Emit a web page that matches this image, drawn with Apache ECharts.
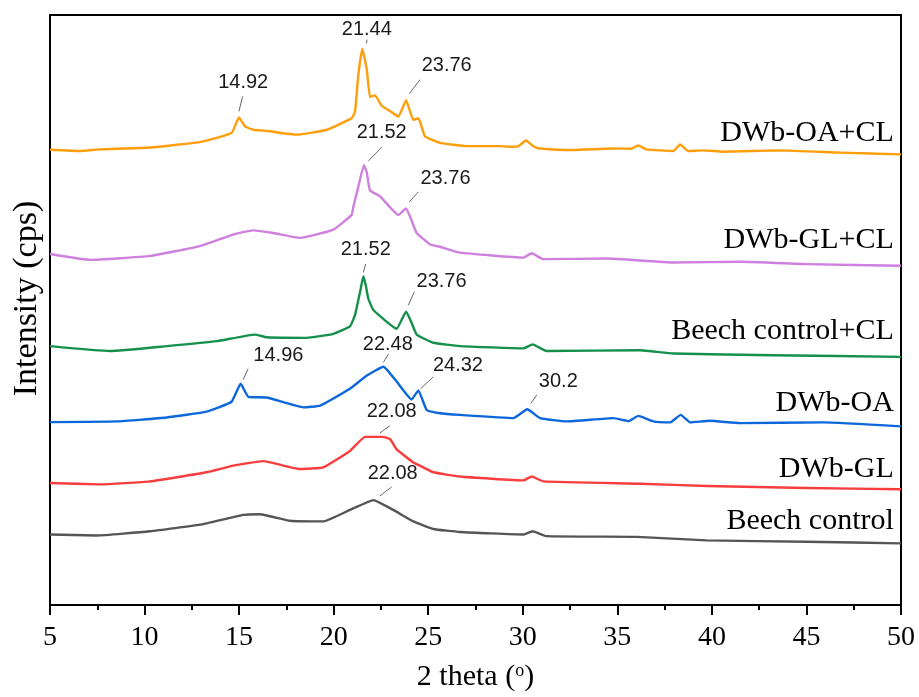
<!DOCTYPE html>
<html><head><meta charset="utf-8">
<script src="https://cdn.jsdelivr.net/npm/echarts@6/dist/echarts.min.js"></script>
<style>html,body{margin:0;padding:0;background:#fff}#chart{width:919px;height:697px}</style>
</head><body><div id="chart"></div>
<script>
// ---------- data ----------
const seriesNames = ['Beech control', 'DWb-GL', 'DWb-OA', 'Beech control+CL', 'DWb-GL+CL', 'DWb-OA+CL'];

const beech = [[5.0,71.7],[7.47,70.7],[10.29,75],[12.93,81.7],[15.22,91.7],[16.1,92.3],[17.69,85.7],[19.45,85],[20.86,96.7],[22.1,106.7],[23.15,96.7],[24.21,85],[25.27,77.3],[26.68,74.3],[30.03,71.7],[30.52,75],[31.26,70],[36.03,69.3],[39.72,65.7],[45.01,64.3],[50,62.7]];

const dwbGl = [[5.0,124],[7.64,122.7],[10.29,125.7],[13.28,135],[14.69,141.7],[16.28,146.3],[18.22,138.3],[19.45,140],[20.86,156.7],[21.66,171],[22.61,171],[23.0,168.3],[23.33,158.3],[24.21,145],[24.56,141.7],[25.27,135],[26.68,130.7],[30.03,126.7],[30.47,130.7],[31.09,125.7],[36.2,123.3],[39.72,121],[45.01,119],[50,117.7]];

const dwbOa = [[5.0,186],[8.52,186.7],[11.17,190.7],[13.28,196.7],[14.6,206.7],[15.08,225],[15.49,211.7],[16.46,211],[18.4,201],[19.28,202.7],[20.86,220],[21.75,233.3],[22.63,242.3],[23.3,228],[24.12,209],[24.48,218.3],[24.92,198.3],[25.62,195],[26.68,193.3],[29.5,190],[30.24,199],[30.91,190],[32.32,186.7],[34.79,190],[35.6,187],[36.11,192.3],[36.9,186.7],[37.79,185.7],[38.35,193.3],[38.85,185.7],[39.9,187.3],[41.49,185],[45.89,185.7],[50,181.7]];

const beechCl = [[5.0,263.3],[8.17,258.3],[11.17,263.3],[13.81,268.3],[15.84,275],[16.46,272.3],[18.57,271.7],[19.98,275.7],[20.86,283.3],[21.13,295],[21.43,321.7],[21.57,334.3],[21.7,325],[21.83,311.7],[22.1,300],[23.33,281],[23.83,298.3],[24.1,288],[24.39,275],[25.27,266.7],[26.68,263.3],[30.03,261],[30.52,265],[31.26,258.3],[36.2,259],[37.96,255.7],[43.25,254],[50,252.3]];

const dwbGlCl = [[5.0,357],[7.12,351],[10.29,355],[12.93,365],[14.68,376.7],[15.75,381],[16.81,378.3],[18.22,373.3],[19.98,381.7],[20.95,396.7],[21.04,405],[21.3,425],[21.6,447.3],[21.75,440],[21.92,421.7],[22.45,415.7],[23.42,396.7],[23.83,403.3],[24.1,392],[24.39,378.3],[25.1,366.7],[25.62,364.3],[26.68,358.3],[30.03,353.3],[30.47,357.7],[31.09,351.7],[34.44,352.3],[37.96,348.3],[41.49,349],[45.01,346.7],[50,345]];

const dwbOaCl = [[5.0,463],[6.6,461.7],[7.6,463.3],[10.3,465.3],[12.9,470.7],[14.6,480],[14.99,495.7],[15.31,486.7],[15.75,483.3],[16.5,482],[18.05,478.3],[19.63,483.3],[20.95,495],[21.13,501.7],[21.3,538.3],[21.51,565.7],[21.75,545],[21.92,516.7],[22.19,518.3],[22.54,507.7],[22.98,502.3],[23.42,496.7],[23.83,513.3],[24.21,493.3],[24.48,495],[24.83,476.7],[25.62,470],[27.03,466.7],[28.8,466.7],[29.33,466],[29.8,467],[30.17,472.3],[30.6,466],[30.91,464.3],[32.66,462.7],[34.77,464.3],[35.76,464],[36.09,467.3],[36.55,463.3],[37.96,461.7],[38.32,468.3],[38.75,461.7],[39.55,462.3],[40.6,461],[43.6,462.3],[46.78,460],[50,458.3]];

// peak annotations: text and anchor (2θ, intensity) just above each peak
const peakTexts = ['14.92','21.44','23.76','21.52','23.76','21.52','23.76','14.96','22.48','24.32','30.2','22.08','22.08'];
const peakAnchorX = [14.99,21.73,24.0,21.83,24.0,21.57,23.95,15.21,22.63,24.6,30.42,22.45,22.45];
const peakAnchorY = [502,571,520,451.7,410,338.3,305,229,246.7,220,205,175,111];

// axis ranges
const xMin = 5, xMax = 50, xStep = 5;
const yMin = 0, yMax = 600;

// ---------- layout / style (pixels) ----------
const colors = ['#555555', '#F73D3D', '#0B67DA', '#14904A', '#CF80DE', '#FF9E0B'];
// [lineEnd dx, dy, text dx, dy] relative to anchor
const peakOffsets = [
  [3.7,-15,4.3,-29],[0.7,-4,0.4,-14],[10.7,-14,37.4,-28.3],[13.4,-13.3,13.4,-28.3],
  [9,-10,36.2,-23],[2.4,-8.4,2.4,-22.7],[6,-13.3,33.2,-23.3],[5,-11,35.3,-24.3],
  [5,-8.3,4.4,-18.3],[12.6,-11.7,37.3,-23.3],[6,-8.3,27.6,-21.7],[10,-7.3,11.7,-21.7],[11.7,-9,12.7,-22.3]
];
const nameLabelX = 49.62;
const nameLabelY = [85, 138, 205, 278.3, 371, 479.7];

const serif = '"Liberation Serif","Times New Roman",serif';
const sans = '"Liberation Sans",Arial,sans-serif';

const allSeries = [beech, dwbGl, dwbOa, beechCl, dwbGlCl, dwbOaCl];

const chart = echarts.init(document.getElementById('chart'), null, {renderer: 'canvas'});

const lineSeries = allSeries.map((d, i) => ({
  name: seriesNames[i],
  type: 'line',
  data: d,
  showSymbol: false,
  smooth: 0.12,
  lineStyle: {color: colors[i], width: 2.4, join: 'round'},
  itemStyle: {color: colors[i]},
  z: 2
}));

const annotData = peakTexts.map((t, i) => [peakAnchorX[i], peakAnchorY[i], i]);
const nameData = seriesNames.map((n, i) => [nameLabelX, nameLabelY[i], i]);

const option = {
  animation: false,
  backgroundColor: '#fff',
  grid: {left: 50, right: 18, top: 15, bottom: 82, show: true, borderColor: '#000', borderWidth: 2, backgroundColor: 'transparent'},
  xAxis: {
    type: 'value', min: xMin, max: xMax, interval: xStep,
    name: '2 theta ({sup|o})', nameLocation: 'middle', nameGap: 57,
    nameTextStyle: {fontFamily: serif, fontSize: 30, color: '#000',
      rich: {sup: {fontFamily: serif, fontSize: 18, color: '#000', verticalAlign: 'top', padding: [0, 0, 12, 0]}}},
    axisLine: {show: true, lineStyle: {color: '#000', width: 2}},
    axisTick: {show: true, inside: false, length: 10, lineStyle: {color: '#000', width: 2}},
    minorTick: {show: true, splitNumber: 2, length: 5, lineStyle: {color: '#000', width: 2}},
    axisLabel: {fontFamily: serif, fontSize: 28, color: '#000', margin: 19},
    splitLine: {show: false}
  },
  yAxis: {
    type: 'value', min: yMin, max: yMax,
    name: 'Intensity (cps)', nameLocation: 'middle', nameGap: 6, nameRotate: 90,
    nameTextStyle: {fontFamily: serif, fontSize: 34, color: '#000', padding: [0, 0, 0, 23]},
    axisLine: {show: true, lineStyle: {color: '#000', width: 2}},
    axisTick: {show: false}, axisLabel: {show: false}, splitLine: {show: false}
  },
  series: lineSeries.concat([
    {
      type: 'custom', silent: true, z: 5, clip: false,
      data: annotData,
      renderItem: function (params, api) {
        const idx = api.value(2);
        const p = api.coord([api.value(0), api.value(1)]);
        const o = peakOffsets[idx];
        return {type: 'group', children: [
          {type: 'line', shape: {x1: p[0], y1: p[1], x2: p[0] + o[0], y2: p[1] + o[1]},
           style: {stroke: '#666', lineWidth: 1}},
          {type: 'text', x: p[0] + o[2], y: p[1] + o[3],
           style: {text: peakTexts[idx], fontFamily: sans, fontSize: 20, fill: '#1a1a1a', align: 'center', verticalAlign: 'middle'}}
        ]};
      }
    },
    {
      type: 'custom', silent: true, z: 5, clip: false,
      data: nameData,
      renderItem: function (params, api) {
        const idx = api.value(2);
        const p = api.coord([api.value(0), api.value(1)]);
        return {type: 'text', x: p[0], y: p[1],
          style: {text: seriesNames[idx], fontFamily: serif, fontSize: 30, fill: '#000', align: 'right', verticalAlign: 'middle'}};
      }
    }
  ])
};
chart.setOption(option);
</script>
</body></html>
